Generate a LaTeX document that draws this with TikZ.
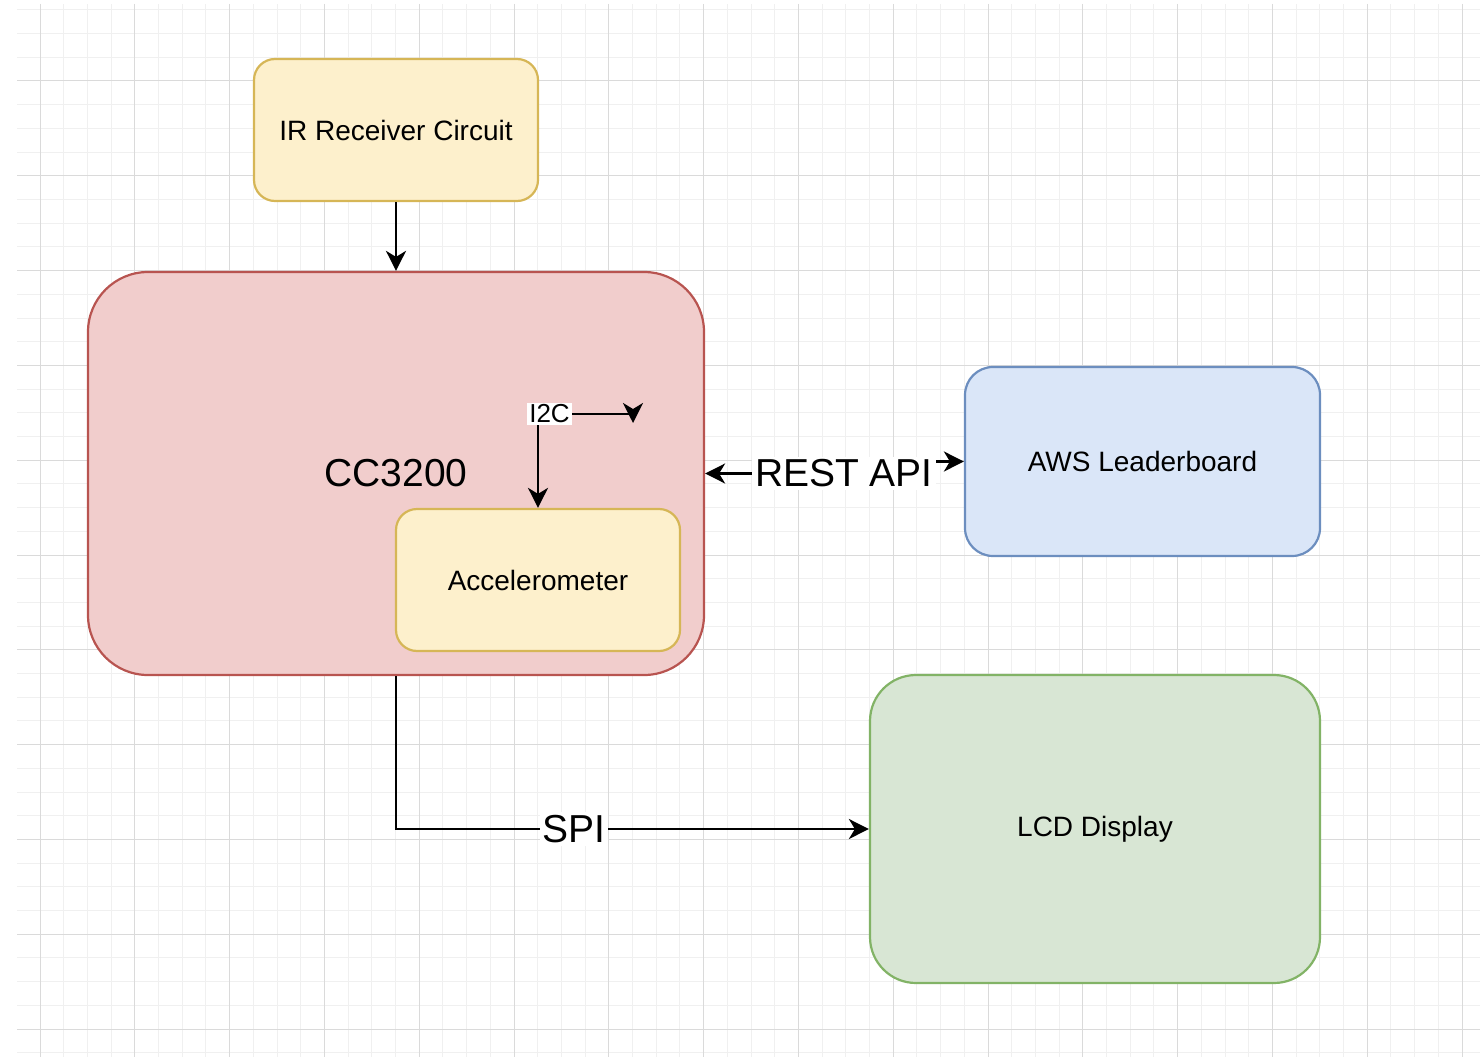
\documentclass[tikz,border=0pt]{standalone}
\usepackage{fontspec}
\setmainfont{Liberation Sans}
\usetikzlibrary{arrows.meta,calc}
\definecolor{yellowfill}{HTML}{FDF0CC}
\definecolor{yellowline}{HTML}{D6B656}
\definecolor{redfill}{HTML}{F1CDCC}
\definecolor{redline}{HTML}{B85450}
\definecolor{bluefill}{HTML}{DAE6F8}
\definecolor{blueline}{HTML}{6C8EBF}
\definecolor{greenfill}{HTML}{D8E6D4}
\definecolor{greenline}{HTML}{82B366}
\definecolor{minorgrid}{HTML}{F0F0F0}
\definecolor{majorgrid}{HTML}{DADADA}

\begin{document}
\begin{tikzpicture}[
    x=1pt, y=-1pt,
    >={Stealth[length=20pt, width=20pt, inset=6pt]},
    block/.style={draw, line width=2.2pt, rounded corners=21pt, align=center, inner sep=0pt, font=\fontsize{28}{34}\selectfont},
    yellowblock/.style={block, fill=yellowfill, draw=yellowline, minimum width=284pt, minimum height=142pt},
    redblock/.style={block, fill=redfill, draw=redline},
    blueblock/.style={block, fill=bluefill, draw=blueline},
    greenblock/.style={block, fill=greenfill, draw=greenline},
    link/.style={->, line width=2.4pt},
    duplex/.style={<->, line width=2.4pt},
    biglabel/.style={fill=white, inner sep=3pt, font=\fontsize{39}{47}\selectfont},
    smalllabel/.style={fill=white, inner sep=2pt, font=\fontsize{26}{31}\selectfont},
    minorline/.style={draw=minorgrid, line width=1pt},
    majorline/.style={draw=majorgrid, line width=1pt}
]
    \useasboundingbox (0,0) rectangle (1480,1062);

    % Grid
    \begin{scope}
        \clip (17,4) rectangle (1480,1057);
        \foreach \i in {-1,...,60}
            \draw[minorline] ({40+\i*23.7},4) -- ++(0,1053);
        \foreach \j in {-4,...,41}
            \draw[minorline] (17,{81+\j*23.7}) -- ++(1463,0);
        \foreach \i in {0,4,...,60}
            \draw[majorline] ({40+\i*23.7},4) -- ++(0,1053);
        \foreach \j in {0,4,...,40}
            \draw[majorline] (17,{81+\j*23.7}) -- ++(1463,0);
    \end{scope}

    % Blocks
    \node[yellowblock] (ir) at (396,130) {IR Receiver Circuit};
    \node[redblock, minimum width=616pt, minimum height=403pt, rounded corners=60pt,
          font=\fontsize{39}{47}\selectfont] (cc) at (396,473.5) {CC3200};
    \node[yellowblock] (acc) at (538,580) {Accelerometer};
    \node[blueblock, minimum width=355pt, minimum height=189pt, rounded corners=28pt] (aws) at (1142.5,461.5) {AWS Leaderboard};
    \node[greenblock, minimum width=450pt, minimum height=308pt, rounded corners=46pt] (lcd) at (1095,829) {LCD Display};

    % Connectors
    \draw[link] (ir) -- (cc);

    \coordinate (i2cbend) at (633,414);
    \coordinate (i2ctip) at (633,423);
    \draw[duplex] (acc.north) |- (i2cbend) -- (i2ctip);
    \node[smalllabel] (i2c) at (549.5,414) {I2C};

    \coordinate (restmid) at (844,467.5);
    \draw[duplex] (cc.east) -| (restmid) |- (aws.west);
    \node[biglabel] (rest) at (844,473.5) {REST API};

    \draw[link] (cc.south) |- (lcd.west);
    \node[biglabel] (spi) at (574,829) {SPI};
\end{tikzpicture}
\end{document}
